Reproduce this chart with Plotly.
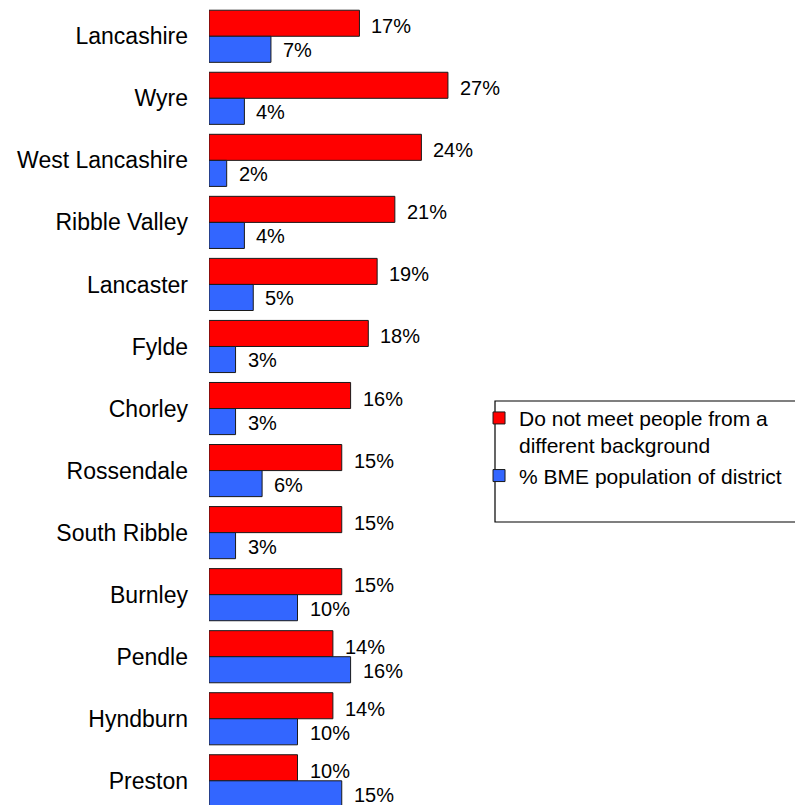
import plotly.graph_objects as go

districts = [
    "Lancashire", "Wyre", "West Lancashire", "Ribble Valley", "Lancaster",
    "Fylde", "Chorley", "Rossendale", "South Ribble", "Burnley",
    "Pendle", "Hyndburn", "Preston",
]
do_not_meet = [17, 27, 24, 21, 19, 18, 16, 15, 15, 15, 14, 14, 10]
bme_population = [7, 4, 2, 4, 5, 3, 3, 6, 3, 10, 16, 10, 15]

series_names = [
    "Do not meet people from a<br>different background",
    "% BME population of district",
]
series_colors = ["#FF0000", "#3366FF"]
series_values = [do_not_meet, bme_population]
# vertical offset (px) of each series' value label from the category centre
label_yshift = [10, -14]

FONT = "Arial, Liberation Sans, sans-serif"

fig = go.Figure()
for name, values, color in zip(series_names, series_values, series_colors):
    fig.add_trace(go.Bar(
        y=districts,
        x=values,
        name=name,
        orientation="h",
        marker=dict(color=color, line=dict(color="#1a1a1a", width=1)),
    ))

# value labels just past the end of each bar
annotations = []
for values, dy in zip(series_values, label_yshift):
    for cat, v in zip(districts, values):
        annotations.append(dict(
            x=v, y=cat, xref="x", yref="y",
            text=f"{v}%", showarrow=False,
            xanchor="left", yanchor="middle",
            xshift=10, yshift=dy,
            font=dict(family=FONT, size=20, color="black"),
        ))

fig.update_layout(
    width=795,
    height=805,
    margin=dict(l=209, r=0, t=5, b=0),
    paper_bgcolor="white",
    plot_bgcolor="white",
    barmode="group",
    bargap=0.16,
    bargroupgap=0,
    font=dict(family=FONT, color="black"),
    showlegend=True,
    legend=dict(
        x=0.4608, y=0.509, xanchor="left", yanchor="top",
        bgcolor="rgba(0,0,0,0)", borderwidth=0,
        font=dict(family=FONT, size=21, color="black"),
        valign="top",
        traceorder="normal",
    ),
    shapes=[dict(
        type="rect", xref="paper", yref="paper",
        x0=(495 - 209) / 586, x1=1.02,
        y0=(805 - 522) / 800, y1=(805 - 401) / 800,
        line=dict(color="black", width=1.2),
        fillcolor="white", layer="below",
    )],
    annotations=annotations,
)

fig.update_xaxes(
    range=[0, 586 / 8.85],
    showticklabels=False, showgrid=False, zeroline=False, showline=False,
)
fig.update_yaxes(
    type="category",
    categoryorder="array",
    categoryarray=districts,
    range=[12.39, -0.504],
    showgrid=False, zeroline=False, showline=False,
    tickfont=dict(family=FONT, size=23, color="black"),
    ticklabelstandoff=20,
)

fig.write_html("out.html")
